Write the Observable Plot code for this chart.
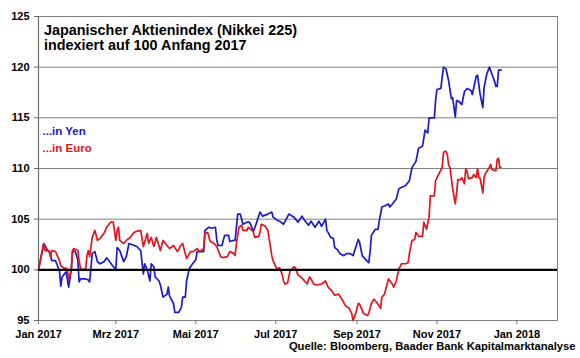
<!DOCTYPE html>
<html><head><meta charset="utf-8">
<script src="https://cdn.jsdelivr.net/npm/d3@7"></script>
<script src="https://cdn.jsdelivr.net/npm/@observablehq/plot@0.6"></script>
<style>body{margin:0;background:#fff}</style>
</head><body><div id="chart"></div>
<script>
const yenDates = ["01-01","01-05","01-08","01-10","01-11","01-14","01-17","01-18","01-19","01-22","01-24","01-26","01-27","01-29","01-31",
"02-01","02-02","02-06","02-08","02-09","02-11","02-13","02-15","02-17","02-20","02-22","02-26",
"03-01","03-02","03-04","03-07","03-09","03-11","03-15","03-17","03-20","03-22","03-23","03-25","03-27","03-28","03-30","03-31",
"04-03","04-04","04-06","04-09","04-10","04-11","04-14","04-15","04-18","04-20","04-21","04-23","04-24","04-26","04-28",
"05-01","05-02","05-07","05-08","05-11","05-13","05-16","05-17","05-18","05-21","05-23","05-26","05-27","05-30","05-31",
"06-02","06-04","06-06","06-09","06-11","06-14","06-16","06-19","06-21","06-25","06-28","06-29",
"07-02","07-04","07-07","07-11","07-15","07-18","07-21","07-23","07-26","07-28","07-31",
"08-03","08-05","08-08","08-09","08-12","08-14","08-15","08-17","08-19","08-22","08-24","08-27","08-29","08-31",
"09-02","09-03","09-05","09-07","09-10","09-11","09-12","09-15","09-17","09-18","09-20","09-22","09-25","09-26","09-28",
"10-01","10-03","10-06","10-08","10-11","10-13","10-16","10-18","10-21","10-23","10-25","10-26","10-30","10-31",
"11-01","11-04","11-05","11-06","11-08","11-09","11-10","11-12","11-13","11-15","11-16","11-18","11-20","11-22","11-24","11-27","11-28",
"12-01","12-02","12-04","12-06","12-07","12-09","12-11","12-13","12-15","12-16","12-17","12-18","12-20"];
const yenValues = [100.0,102.6,101.9,101.7,100.9,100.9,99.9,98.4,99.3,99.8,98.3,100.0,101.9,101.8,101.0,
98.8,99.1,99.1,99.0,98.8,101.6,101.8,100.8,100.6,100.8,101.2,100.5,
100.0,102.2,101.9,100.8,101.3,102.6,102.4,102.3,101.9,99.6,100.6,100.0,98.9,100.6,100.3,99.3,
98.9,98.5,97.3,97.6,98.3,97.4,96.7,95.8,95.8,96.3,97.3,97.3,98.9,100.1,100.5,
101.0,101.8,101.8,103.9,104.2,104.1,104.2,103.0,102.4,102.4,103.4,103.4,102.8,102.9,102.9,
105.5,105.5,104.5,104.7,104.7,103.8,104.5,105.7,105.3,105.5,105.7,105.2,
104.9,104.8,104.5,105.5,105.2,104.7,105.3,104.9,104.4,104.8,104.2,
104.8,104.3,105.0,103.9,103.2,103.1,102.2,102.0,101.6,101.4,101.6,101.6,101.4,102.2,
103.0,102.7,101.4,101.1,100.7,101.8,103.4,104.0,104.0,104.8,106.2,106.3,106.5,106.2,106.5,
107.0,108.0,108.2,108.3,108.8,110.1,110.7,112.0,112.2,113.8,113.5,115.0,115.0,116.7,
117.8,117.9,119.0,120.0,119.8,119.2,118.6,116.9,117.0,115.1,116.7,116.6,116.3,117.6,117.9,117.7,117.3,
119.1,119.2,117.3,116.0,118.0,119.3,120.0,119.3,118.6,118.1,118.1,119.7,119.7];

const euroDates = ["01-01","01-05","01-06","01-09","01-10","01-11","01-14","01-15","01-17","01-18","01-20","01-23","01-24","01-26","01-27","01-28","01-31",
"02-01","02-02","02-03","02-06","02-07","02-08","02-09","02-11","02-13","02-15","02-17","02-20","02-22","02-25","02-27",
"03-01","03-02","03-03","03-04","03-07","03-09","03-12","03-15","03-17","03-20","03-22","03-25","03-26","03-28","03-30",
"04-01","04-04","04-06","04-09","04-11","04-14","04-17","04-19","04-21","04-24","04-27","04-29",
"05-02","05-04","05-07","05-08","05-10","05-12","05-15","05-17","05-20","05-22","05-25","05-27","05-30","05-31",
"06-01","06-03","06-05","06-06","06-09","06-10","06-13","06-14","06-15","06-18","06-19","06-20","06-23","06-24","06-25","06-28","06-29",
"07-01","07-02","07-04","07-06","07-07","07-08","07-10","07-11","07-12","07-15","07-16","07-18","07-21","07-23","07-25","07-26","07-27","07-30",
"08-01","08-05","08-08","08-10","08-13","08-15","08-18","08-21","08-23","08-26","08-28","08-29","08-31",
"09-02","09-03","09-06","09-09","09-10","09-12","09-14","09-16","09-19","09-20","09-22","09-25","09-28","09-29",
"10-01","10-03","10-05","10-08","10-10","10-11","10-13","10-15","10-16","10-18","10-21","10-22","10-24","10-26","10-27","10-30","10-31",
"11-03","11-05","11-06","11-08","11-09","11-10","11-11","11-13","11-15","11-16","11-17","11-19","11-20","11-22","11-23","11-24","11-25","11-28","11-29",
"12-01","12-02","12-03","12-04","12-06","12-07","12-08","12-11","12-12","12-13","12-15","12-16","12-17","12-18","12-19","12-20"];
const euroValues = [100.0,102.6,101.9,101.9,101.3,101.9,101.8,101.5,100.9,100.4,100.2,100.1,99.0,100.0,101.9,102.1,101.9,
100.9,100.2,100.0,100.1,101.4,101.9,101.3,103.2,103.9,102.9,103.1,103.6,104.2,104.7,104.7,
102.9,103.9,104.2,102.9,102.6,102.9,103.2,103.7,103.8,103.9,102.3,103.6,102.6,103.2,102.3,
103.2,101.9,102.9,102.4,102.1,102.4,101.8,102.3,102.6,101.1,101.8,101.8,
102.1,101.8,102.1,103.6,103.7,102.8,102.6,102.3,101.3,101.2,101.3,101.8,101.6,101.4,
102.6,104.2,104.4,103.9,103.9,104.2,103.9,103.7,103.2,103.3,103.7,104.5,104.3,104.1,103.9,101.4,100.9,
100.3,100.1,100.2,99.5,98.9,98.6,98.7,99.3,99.9,100.3,100.2,99.5,99.2,98.9,98.6,99.0,99.3,98.6,
98.5,98.6,98.9,98.3,97.9,97.5,97.6,97.0,96.5,96.2,95.7,95.0,95.7,
96.7,96.6,95.7,95.5,95.7,96.7,97.1,96.8,96.2,97.3,97.6,99.1,98.6,98.3,
98.9,100.1,100.6,100.6,100.7,101.6,102.9,103.0,103.7,103.3,103.3,104.7,104.0,105.2,107.3,107.3,108.8,
109.6,110.1,111.6,111.7,111.3,110.3,110.1,108.0,106.5,107.6,108.9,108.9,109.1,108.5,110.0,109.7,109.0,109.1,109.4,
109.1,110.0,109.1,109.0,107.6,109.1,109.5,110.1,110.4,109.9,109.8,109.8,110.9,111.0,110.1,110.1];

const yearPrefix = "2017-";
const yTicks = [95, 100, 105, 110, 115, 120, 125];
const gridValues = [105, 110, 115, 120, 125];
const baseline = 100;
const xDomain = ["2017-01-01", "2018-02-01"];
const xTickDates = ["2017-01-01","2017-03-01","2017-05-01","2017-07-01","2017-09-01","2017-11-01","2018-01-01"];
const xTickLabels = ["Jan 2017","Mrz 2017","Mai 2017","Jul 2017","Sep 2017","Nov 2017","Jan 2018"];
const titleLines = ["Japanischer Aktienindex (Nikkei 225)", "indexiert auf 100 Anfang 2017"];
const seriesLabels = ["...in Yen", "...in Euro"];
const sourceText = "Quelle: Bloomberg, Baader Bank Kapitalmarktanalyse";

const BLUE = "#1a1acc", RED = "#e3141b", GRID = "#808080", AXIS = "#6e6e6e";
const parse = d3.utcParse("%Y-%m-%d");
const yen = yenDates.map((d, i) => ({date: parse(yearPrefix + d), value: yenValues[i]}));
const euro = euroDates.map((d, i) => ({date: parse(yearPrefix + d), value: euroValues[i]}));
const xTicks = xTickDates.map(parse);
const labelFor = new Map(xTicks.map((d, i) => [+d, xTickLabels[i]]));

const chart = Plot.plot({
  width: 580, height: 358,
  marginLeft: 38, marginRight: 23, marginTop: 16, marginBottom: 38,
  style: {fontFamily: "Arial, 'Liberation Sans', sans-serif", fontSize: "11px", color: "#000", background: "#fff"},
  x: {type: "utc", domain: xDomain.map(parse)},
  y: {domain: [95, 125]},
  marks: [
    Plot.ruleY(gridValues, {stroke: GRID, strokeWidth: 1}),
    Plot.frame({stroke: GRID}),
    Plot.ruleX([xDomain[0]].map(parse), {stroke: AXIS, strokeWidth: 1.2}),
    Plot.axisY({ticks: yTicks, tickSize: 4, tickPadding: 5, fontWeight: "bold", fontSize: 11, label: null, stroke: AXIS}),
    Plot.axisX({ticks: xTicks, tickSize: 4, tickPadding: 6, tickFormat: d => labelFor.get(+d), fontWeight: "bold", fontSize: 11, label: null, stroke: AXIS}),
    Plot.line(yen, {x: "date", y: "value", stroke: BLUE, strokeWidth: 1.7}),
    Plot.line(euro, {x: "date", y: "value", stroke: RED, strokeWidth: 1.7}),
    Plot.ruleY([baseline], {stroke: "#000", strokeWidth: 2.3}),
    Plot.text([titleLines.join("\n")], {text: d => d, frameAnchor: "top-left", dx: 5.5, dy: 7.6, lineAnchor: "top", textAnchor: "start", fontSize: 14.4, fontWeight: "bold", lineHeight: 1.05, fill: "#000"}),
    Plot.text([seriesLabels[0]], {text: d => d, frameAnchor: "top-left", dx: 4, dy: 115.3, lineAnchor: "middle", textAnchor: "start", fontSize: 11.5, fontWeight: "bold", fill: BLUE}),
    Plot.text([seriesLabels[1]], {text: d => d, frameAnchor: "top-left", dx: 4, dy: 132.3, lineAnchor: "middle", textAnchor: "start", fontSize: 11.5, fontWeight: "bold", fill: RED}),
    Plot.text([sourceText], {text: d => d, frameAnchor: "bottom-right", dx: 18, dy: 26, lineAnchor: "middle", textAnchor: "end", fontSize: 11.2, fontWeight: "bold", fill: "#000"})
  ]
});
document.getElementById("chart").appendChild(chart);
</script>
</body></html>
